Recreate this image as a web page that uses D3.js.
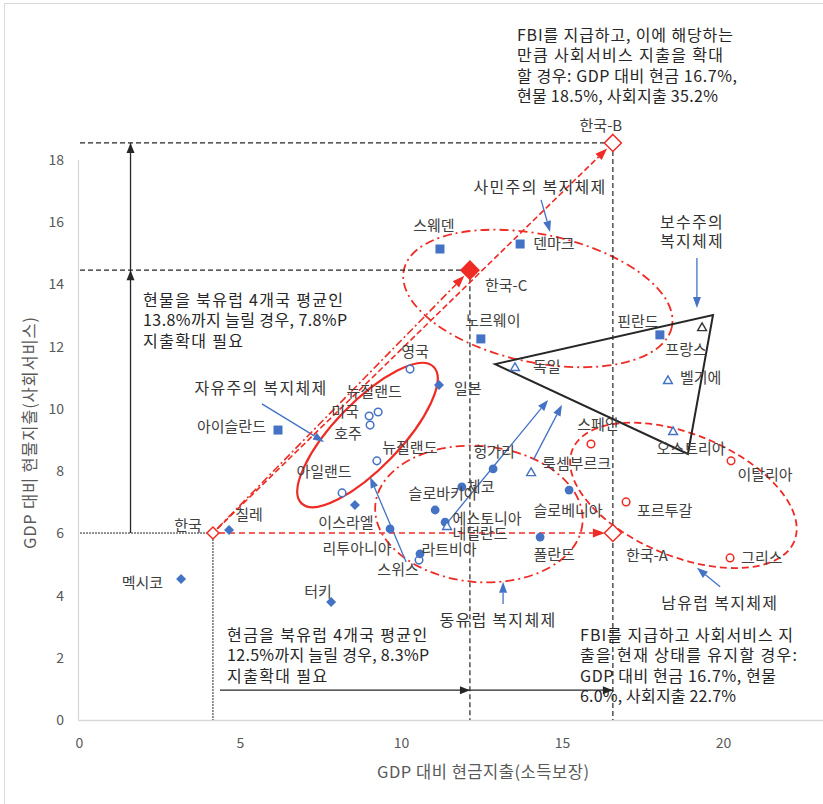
<!DOCTYPE html>
<html>
<head>
<meta charset="utf-8">
<script src="https://cdn.jsdelivr.net/npm/d3@7"></script>
<style>
  body { margin: 0; background: #fff; }
  text { font-family: "Noto Sans CJK KR", "Noto Sans", sans-serif; }
</style>
</head>
<body>
<svg id="chart" width="823" height="804"></svg>
<script>
// ─── data: GDP 대비 현금지출(x) / 현물지출(y), % ─────────────────────
// 사민주의 (filled squares)
const nordic = [
  { id: "sweden",  name: "스웨덴",   x: 11.21, y: 15.14 },
  { id: "denmark", name: "덴마크",   x: 13.70, y: 15.30 },
  { id: "norway",  name: "노르웨이", x: 12.48, y: 12.25 },
  { id: "finland", name: "핀란드",   x: 18.04, y: 12.38 },
  { id: "iceland", name: "아이슬란드", x: 6.18, y: 9.32 }
];
// 기타 (filled diamonds)
const others = [
  { id: "japan",  name: "일본",   x: 11.18, y: 10.77 },
  { id: "chile",  name: "칠레",   x: 4.66,  y: 6.11 },
  { id: "mexico", name: "멕시코", x: 3.17,  y: 4.53 },
  { id: "turkey", name: "터키",   x: 7.83,  y: 3.79 },
  { id: "israel", name: "이스라엘", x: 8.57, y: 6.91 }
];
// 자유주의 (open circles)
const liberal = [
  { id: "uk",      name: "영국",     x: 10.28, y: 11.28 },
  { id: "nz1",     name: "뉴질랜드", x: 9.29,  y: 9.90 },
  { id: "us",      name: "미국",     x: 9.01,  y: 9.77 },
  { id: "aus",     name: "호주",     x: 9.04,  y: 9.48 },
  { id: "nz2",     name: "뉴질랜드", x: 9.25,  y: 8.33 },
  { id: "ireland", name: "아일랜드", x: 8.17,  y: 7.30 },
  { id: "swiss",   name: "스위스",   x: 10.56, y: 5.14 }
];
// 동유럽 (filled circles)
const eastern = [
  { id: "hungary",   name: "헝가리",     x: 12.86, y: 8.07 },
  { id: "czech",     name: "체코",       x: 11.89, y: 7.49 },
  { id: "slovakia",  name: "슬로바키아", x: 11.06, y: 6.75 },
  { id: "estonia",   name: "에스토니아", x: 11.37, y: 6.36 },
  { id: "slovenia",  name: "슬로베니아", x: 15.22, y: 7.39 },
  { id: "poland",    name: "폴란드",     x: 14.32, y: 5.88 },
  { id: "lithuania", name: "리투아니아", x: 9.66,  y: 6.14 },
  { id: "latvia",    name: "라트비아",   x: 10.59, y: 5.34 }
];
// 보수주의 (open triangles)
const continental = [
  { id: "germany",     name: "독일",       x: 13.54, y: 11.35 },
  { id: "france",      name: "프랑스",     x: 19.35, y: 12.63 },
  { id: "belgium",     name: "벨기에",     x: 18.29, y: 10.93 },
  { id: "austria",     name: "오스트리아", x: 18.45, y: 9.29 },
  { id: "luxembourg",  name: "룩셈부르크", x: 14.04, y: 7.97 },
  { id: "netherlands", name: "네덜란드",   x: 11.43, y: 6.24 }
];
// 남유럽 (red open circles)
const southern = [
  { id: "spain",    name: "스페인",   x: 15.90, y: 8.87 },
  { id: "italy",    name: "이탈리아", x: 20.25, y: 8.33 },
  { id: "portugal", name: "포르투갈", x: 16.99, y: 7.01 },
  { id: "greece",   name: "그리스",   x: 20.22, y: 5.21 }
];
// 한국 현재 및 시나리오
const korea   = { id: "korea",  name: "한국",   x: 4.16,  y: 6.01 };
const koreaA  = { id: "koreaA", name: "한국-A", x: 16.58, y: 6.01 };
const koreaB  = { id: "koreaB", name: "한국-B", x: 16.58, y: 18.55 };
const koreaC  = { id: "koreaC", name: "한국-C", x: 12.14, y: 14.46 };

const xTicks = [0, 5, 10, 15, 20];
const yTicks = [0, 2, 4, 6, 8, 10, 12, 14, 16, 18];

// ─── label placement (px offsets from marker) ─────────────────────────
const labelAt = {
  sweden: [-6, -23, "middle"], denmark: [13, 0, "start"], norway: [12, -18, "middle"],
  finland: [-22, -13, "middle"], iceland: [-12, -3, "end"],
  japan: [15, 4, "start"], chile: [20, -15, "middle"], mexico: [-18, 4, "end"],
  turkey: [-13, -10, "middle"], israel: [-9, 18, "middle"],
  uk: [5, -17, "middle"], nz1: [-4, -20, "middle"], us: [-24, -4, "middle"],
  aus: [-22, 9, "middle"], nz2: [33, -13, "middle"], ireland: [-18, -21, "middle"],
  swiss: [-21, 10, "middle"],
  hungary: [1, -17, "middle"], czech: [5, 0, "start"], slovakia: [8, -16, "middle"],
  estonia: [42, -3, "middle"], slovenia: [-1, 21, "middle"], poland: [14, 18, "middle"],
  lithuania: [-33, 20, "middle"], latvia: [29, -4, "middle"],
  germany: [18, 0, "start"], france: [-16, 23, "middle"], belgium: [12, -2, "start"],
  austria: [18, 18, "middle"], luxembourg: [11, -8, "start"], netherlands: [33, 8, "middle"],
  spain: [7, -19, "middle"], italy: [34, 14, "middle"], portugal: [11, 9, "start"],
  greece: [11, 0, "start"],
  korea: [-25, -7, "middle"], koreaA: [13, 23, "start"], koreaB: [-12, -17, "middle"],
  koreaC: [15, 16, "start"]
};

// ─── regime outlines & annotation anchors (data units) ───────────────
const regimeShapes = [
  { cx: 8.96,  cy: 9.16,  rx: 95,  ry: 33, rot: -46,  dash: null },
  { cx: 14.25, cy: 13.55, rx: 137, ry: 64, rot: 12,   dash: "9,4,2,4" },
  { cx: 12.42, cy: 6.62,  rx: 104, ry: 68, rot: 5,    dash: "9,4,2,4" },
  { cx: 18.77, cy: 7.22,  rx: 120, ry: 61, rot: 22.5, dash: "7,4" }
];
const conservativeTriangle = [[12.92, 11.44], [19.69, 13.02], [18.91, 8.55]];
const blueArrows = [
  [[14.35, 16.72], [14.63, 15.69]],
  [[19.19, 14.85], [19.19, 13.24]],
  [[5.68, 10.16], [7.61, 8.94]],
  [[10.16, 5.08], [9.04, 7.81]],
  [[11.43, 6.33], [14.57, 10.29]],
  [[14.11, 8.36], [15.00, 10.13]],
  [[13.17, 3.73], [13.17, 4.44]],
  [[19.91, 4.28], [19.19, 4.89]]
];
const regimeTitles = [
  { lines: ["사민주의 복지체제"], x: 14.32, y: 17.13 },
  { lines: ["보수주의", "복지체제"], x: 19.04, y: 16.0 },
  { lines: ["자유주의 복지체제"], x: 5.65, y: 10.67 },
  { lines: ["동유럽 복지체제"], x: 13.01, y: 3.21 },
  { lines: ["남유럽 복지체제"], x: 19.9, y: 3.76 }
];
const notes = [
  { x: 13.6, y: 22.02, lines: ["FBI를 지급하고, 이에 해당하는", "만큼 사회서비스 지출을 확대",
      "할 경우: GDP 대비 현금 16.7%,", "현물 18.5%, 사회지출 35.2%"], w: [216, 206, 220, 201] },
  { x: 1.99, y: 13.5, lines: ["현물을 북유럽 4개국 평균인", "13.8%까지 늘릴 경우, 7.8%P", "지출확대 필요"],
    w: [200, 204, 100] },
  { x: 4.6, y: 2.73, lines: ["현금을 북유럽 4개국 평균인", "12.5%까지 늘릴 경우, 8.3%P", "지출확대 필요"],
    w: [200, 202, 100] },
  { x: 15.56, y: 2.73, lines: ["FBI를 지급하고 사회서비스 지", "출을 현재 상태를 유지할 경우:",
      "GDP 대비 현금 16.7%, 현물", "6.0%, 사회지출 22.7%"], w: [213, 217, 196, 156] }
];
const arrowX = 1.6;   // 세로 화살표 위치
const arrowY = 0.96;  // 가로 화살표 위치
const arrowStartX = 4.38;

// ─── setup ────────────────────────────────────────────────────────────
const BLUE = "#4472c4", RED = "#ee2b24", INK = "#262626", LABEL = "#404040", AXIS = "#595959";
const svg = d3.select("#chart");
const x = d3.scaleLinear().domain([0, 23]).range([79, 79 + 23 * 32.2]);
const y = d3.scaleLinear().domain([0, 18]).range([720, 720 - 18 * 31.11]);
const P = (d) => [x(d.x !== undefined ? d.x : d[0]), y(d.y !== undefined ? d.y : d[1])];

// chart frame (cropped on right)
svg.append("line").attr("x1", 4.5).attr("x2", 4.5).attr("y1", 3).attr("y2", 804)
  .attr("stroke", "#d9d9d9");
svg.append("line").attr("x1", 4.5).attr("x2", 823).attr("y1", 3.5).attr("y2", 3.5)
  .attr("stroke", "#d9d9d9");

// axes
const gx = svg.append("g").attr("transform", "translate(0,720)")
  .call(d3.axisBottom(x).tickValues(xTicks).tickSize(0).tickPadding(18));
gx.select(".domain").remove();
gx.selectAll("text").attr("font-size", 14).attr("fill", AXIS)
  .attr("font-family", "'Noto Sans CJK KR', sans-serif");
const gy = svg.append("g").attr("transform", "translate(79,0)")
  .call(d3.axisLeft(y).tickValues(yTicks).tickSize(0).tickPadding(15));
gy.select(".domain").remove();
gy.selectAll("text").attr("font-size", 14).attr("fill", AXIS)
  .attr("font-family", "'Noto Sans CJK KR', sans-serif");
svg.append("line").attr("x1", 78.5).attr("x2", 823).attr("y1", 720.5).attr("y2", 720.5)
  .attr("stroke", "#d9d9d9").attr("stroke-width", 1.3);
svg.append("line").attr("x1", 78.5).attr("x2", 78.5).attr("y1", y(18)).attr("y2", 720.5)
  .attr("stroke", "#d9d9d9").attr("stroke-width", 1.3);

svg.append("text").attr("x", 483).attr("y", 772).attr("dy", "0.35em")
  .attr("text-anchor", "middle").attr("font-size", 16.5).attr("fill", AXIS)
  .attr("textLength", 212).attr("lengthAdjust", "spacing")
  .text("GDP 대비 현금지출(소득보장)");
svg.append("text").attr("transform", "translate(30.5,433) rotate(-90)").attr("dy", "0.35em")
  .attr("text-anchor", "middle").attr("font-size", 16.5).attr("fill", AXIS)
  .attr("textLength", 232).attr("lengthAdjust", "spacing")
  .text("GDP 대비 현물지출(사회서비스)");

// ─── helpers ──────────────────────────────────────────────────────────
function line(g, a, b, color, w, dash) {
  return g.append("line").attr("x1", a[0]).attr("y1", a[1]).attr("x2", b[0]).attr("y2", b[1])
    .attr("stroke", color).attr("stroke-width", w).attr("stroke-dasharray", dash || null);
}
// arrowhead with tip at `tip`, pointing away from `from`; returns base point
function head(g, from, tip, len, wid, color) {
  const dx = tip[0] - from[0], dy = tip[1] - from[1], L = Math.hypot(dx, dy);
  const ux = dx / L, uy = dy / L;
  const bx = tip[0] - ux * len, by = tip[1] - uy * len;
  g.append("polygon").attr("fill", color).attr("points", [
    tip, [bx - uy * wid / 2, by + ux * wid / 2], [bx + uy * wid / 2, by - ux * wid / 2]
  ].map(p => p.join(",")).join(" "));
  return [bx, by];
}
function back(from, to, px) {
  const dx = to[0] - from[0], dy = to[1] - from[1], L = Math.hypot(dx, dy);
  return [to[0] - dx / L * px, to[1] - dy / L * px];
}

const gShapes = svg.append("g");
const gLines = svg.append("g");
const gMarks = svg.append("g");
const gText = svg.append("g");

// reference lines
const K = P(korea), KA = P(koreaA), KB = P(koreaB), KC = P(koreaC);
line(gLines, [x(0) + 1, KB[1]], KB, INK, 1.2, "5,3");
line(gLines, [x(0) + 1, KC[1]], KC, INK, 1.2, "5,3");
line(gLines, KC, [KC[0], y(0)], INK, 1.2, "5,3");
line(gLines, KB, [KB[0], y(0)], INK, 1.2, "5,3");
line(gLines, [x(0) + 1, K[1]], K, INK, 1, "2,1");
line(gLines, K, [K[0], y(0)], INK, 1, "2,1");

// black arrows
{
  const base = [x(arrowX), K[1]];
  const t1 = [x(arrowX), KC[1]], t2 = [x(arrowX), KB[1]];
  line(gLines, base, t2, INK, 1.3);
  head(gLines, base, t1, 10, 8, INK);
  head(gLines, base, t2, 10, 8, INK);
  const hb = [x(arrowStartX), y(arrowY)];
  const h1 = [KC[0], y(arrowY)], h2 = [KA[0], y(arrowY)];
  line(gLines, hb, h2, INK, 1.3);
  head(gLines, hb, h1, 10, 8, INK);
  head(gLines, hb, h2, 10, 8, INK);
}

// regime outlines
regimeShapes.forEach(s => {
  gShapes.append("ellipse")
    .attr("transform", `translate(${x(s.cx)},${y(s.cy)}) rotate(${s.rot})`)
    .attr("rx", s.rx).attr("ry", s.ry)
    .attr("fill", "none").attr("stroke", RED)
    .attr("stroke-width", s.dash ? 1.8 : 2.2)
    .attr("stroke-dasharray", s.dash);
});
gShapes.append("polygon")
  .attr("points", conservativeTriangle.map(d => P(d).join(",")).join(" "))
  .attr("fill", "none").attr("stroke", INK).attr("stroke-width", 2);

// blue pointer arrows
blueArrows.forEach(([a, b]) => {
  const pa = P(a), pb = P(b);
  const base = head(gLines, pa, pb, 11, 8, BLUE);
  line(gLines, pa, base, BLUE, 1.3);
});

// korea scenario arrows
[[KA, "6,4"], [KC, "8,3,2,3"], [KB, "6,3"]].forEach(([t, dash]) => {
  const tip = back(K, t, 8);
  const base = head(gLines, K, tip, 12, 9, RED);
  line(gLines, back(t, K, 6), base, RED, 1.6, dash);
});

// ─── markers ──────────────────────────────────────────────────────────
gMarks.selectAll("rect.nordic").data(nordic).join("rect").attr("class", "nordic")
  .attr("x", d => x(d.x) - 4.5).attr("y", d => y(d.y) - 4.5)
  .attr("width", 9).attr("height", 9).attr("fill", BLUE);

const diamond = d3.symbol(d3.symbolSquare, 50);
gMarks.selectAll("path.other").data(others).join("path").attr("class", "other")
  .attr("d", diamond).attr("fill", BLUE)
  .attr("transform", d => `translate(${x(d.x)},${y(d.y)}) rotate(45)`);

gMarks.selectAll("circle.lib").data(liberal).join("circle").attr("class", "lib")
  .attr("cx", d => x(d.x)).attr("cy", d => y(d.y)).attr("r", 3.8)
  .attr("fill", "#fff").attr("stroke", BLUE).attr("stroke-width", 1.5);

gMarks.selectAll("circle.east").data(eastern).join("circle").attr("class", "east")
  .attr("cx", d => x(d.x)).attr("cy", d => y(d.y)).attr("r", 4.4).attr("fill", BLUE);

const tri = d3.symbol(d3.symbolTriangle, 34);
gMarks.selectAll("path.cont").data(continental).join("path").attr("class", "cont")
  .attr("d", tri).attr("fill", "#fff")
  .attr("stroke", d => d.id === "france" ? "#333" : BLUE).attr("stroke-width", 1.4)
  .attr("transform", d => `translate(${x(d.x)},${y(d.y) + 1})`);

gMarks.selectAll("circle.south").data(southern).join("circle").attr("class", "south")
  .attr("cx", d => x(d.x)).attr("cy", d => y(d.y)).attr("r", 3.8)
  .attr("fill", "#fff").attr("stroke", RED).attr("stroke-width", 1.5);

const koreaMarks = [
  { d: korea, half: 6, fill: "#fff" },
  { d: koreaA, half: 8.5, fill: "#fff" },
  { d: koreaB, half: 8.5, fill: "#fff" },
  { d: koreaC, half: 9, fill: RED }
];
koreaMarks.forEach(k => {
  const [cx, cy] = P(k.d), h = k.half;
  gMarks.append("polygon")
    .attr("points", [[cx, cy - h], [cx + h, cy], [cx, cy + h], [cx - h, cy]].map(p => p.join(",")).join(" "))
    .attr("fill", k.fill).attr("stroke", RED).attr("stroke-width", 1.5);
});

// ─── labels ───────────────────────────────────────────────────────────
const all = [].concat(nordic, others, liberal, eastern, continental, southern,
  [korea, koreaA, koreaB, koreaC]);
gText.selectAll("text.lbl").data(all).join("text").attr("class", "lbl")
  .attr("x", d => x(d.x) + labelAt[d.id][0])
  .attr("y", d => y(d.y) + labelAt[d.id][1])
  .attr("dy", "0.35em").attr("text-anchor", d => labelAt[d.id][2])
  .attr("font-size", 15).attr("fill", LABEL)
  .text(d => d.name);

regimeTitles.forEach(t => {
  const tx = gText.append("text").attr("text-anchor", "middle")
    .attr("font-size", 16).attr("letter-spacing", 1.3).attr("fill", "#333");
  t.lines.forEach((s, i) => tx.append("tspan").attr("x", x(t.x))
    .attr("y", y(t.y) + i * 19).attr("dy", "0.35em").text(s));
});

notes.forEach(n => {
  const tx = gText.append("text").attr("font-size", 16).attr("fill", INK);
  n.lines.forEach((s, i) => tx.append("tspan").attr("x", x(n.x))
    .attr("y", y(n.y) + i * 20.5).attr("dy", "0.35em")
    .attr("textLength", n.w[i]).attr("lengthAdjust", "spacing").text(s));
});
</script>
</body>
</html>
